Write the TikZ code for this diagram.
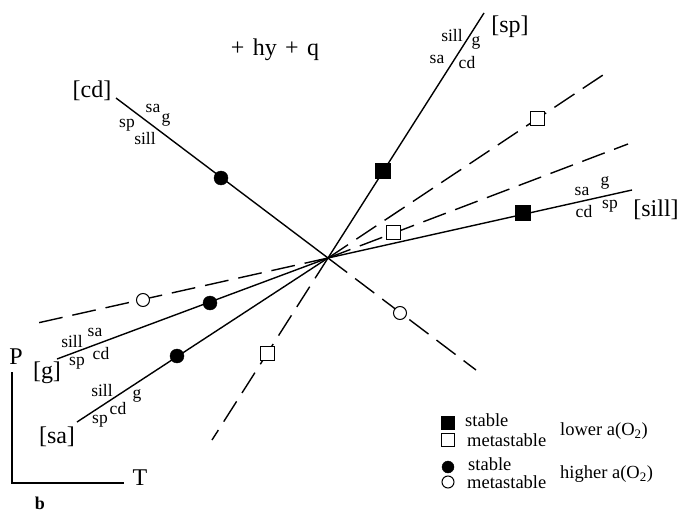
\documentclass[tikz,border=0pt]{standalone}
\usepackage{fontspec}
\setmainfont{Liberation Serif}
\usetikzlibrary{calc}
\tikzset{
    pdStable/.style={line width=1.4pt},
    pdMeta/.style={line width=1.4pt,dash pattern=on 24pt off 10pt},
    pdSqFull/.style={draw,fill=black,minimum size=15pt,inner sep=0pt,line width=1pt},
    pdSqOpen/.style={draw,fill=white,minimum size=14pt,inner sep=0pt,line width=1pt},
    pdDotFull/.style={circle,draw,fill=black,minimum size=14pt,inner sep=0pt},
    pdDotOpen/.style={circle,draw,fill=white,minimum size=13pt,inner sep=0pt,line width=1pt},
    pdPhase/.style={font=\fontsize{24}{26}\selectfont,inner sep=0pt},
    pdSmall/.style={font=\fontsize{17.5}{19}\selectfont,inner sep=0pt},
    pdKey/.style={font=\fontsize{18.5}{20}\selectfont,inner sep=0pt,anchor=west,
        text height=10pt,text depth=1pt}
}

\begin{document}
\begin{tikzpicture}[x=1pt,y=-1pt]
    \useasboundingbox (0,0) rectangle (681,514);

    % invariant point and ends of the univariant curves
    \coordinate (inv) at (328,258);
    \coordinate (cdEnd) at (116,98);
    \coordinate (spEnd) at (484,13);
    \coordinate (sillEnd) at (632,190);
    \coordinate (gEnd) at (57,359);
    \coordinate (saEnd) at (77,422);
    \coordinate (cdMeta) at (476,370);
    \coordinate (spMeta) at (212,440);
    \coordinate (sillMeta) at (33,324);
    \coordinate (gMeta) at (628,144);
    \coordinate (saMeta) at (603,75);

    \draw[pdStable] (cdEnd) -- (inv);
    \draw[pdStable] (spEnd) -- (inv);
    \draw[pdStable] (sillEnd) -- (inv);
    \draw[pdStable] (gEnd) -- (inv);
    \draw[pdStable] (saEnd) -- (inv);
    \draw[pdMeta] (inv) -- (cdMeta);
    \draw[pdMeta] (inv) -- (spMeta);
    \draw[pdMeta] (inv) -- (sillMeta);
    \draw[pdMeta] (inv) -- (gMeta);
    \draw[pdMeta] (inv) -- (saMeta);

    % symbols on the curves
    \node[pdDotFull] (cdDot) at (221,178) {};
    \node[pdDotOpen] (cdDotM) at (400,313) {};
    \node[pdSqFull] (spSq) at (383,171) {};
    \node[pdSqOpen] (spSqM) at (267,353) {};
    \node[pdSqFull] (sillSq) at (523,213) {};
    \node[pdDotOpen] (sillDotM) at (143,300) {};
    \node[pdDotFull] (gDot) at (210,303) {};
    \node[pdSqOpen] (gSqM) at (393,232) {};
    \node[pdDotFull] (saDot) at (177,356) {};
    \node[pdSqOpen] (saSqM) at (537,118) {};

    % labels
    \node[pdPhase] (title) at (275,50) {+\hspace{0.35em}hy\hspace{0.35em}+\hspace{0.35em}q};
    \node[pdPhase] (cdLab) at (92,91) {[cd]};
    \node[pdSmall] (cdSa) at (153,108) {sa};
    \node[pdSmall] (cdG) at (166,120) {g};
    \node[pdSmall] (cdSp) at (127,125) {sp};
    \node[pdSmall] (cdSill) at (145,139) {sill};

    \node[pdPhase] (spLab) at (510,27) {[sp]};
    \node[pdSmall] (spSill) at (452,36) {sill};
    \node[pdSmall] (spG) at (476,43) {g};
    \node[pdSmall] (spSa) at (437,59) {sa};
    \node[pdSmall] (spCd) at (467,63) {cd};

    \node[pdPhase] (sillLab) at (656,210) {[sill]};
    \node[pdSmall] (sillSa) at (582,191) {sa};
    \node[pdSmall] (sillG) at (605,183) {g};
    \node[pdSmall] (sillCd) at (584,212) {cd};
    \node[pdSmall] (sillSp) at (610,206) {sp};

    \node[pdPhase] (gLab) at (47,373) {[g]};
    \node[pdSmall] (gSill) at (72,342) {sill};
    \node[pdSmall] (gSa) at (95,332) {sa};
    \node[pdSmall] (gSp) at (77,363) {sp};
    \node[pdSmall] (gCd) at (101,354) {cd};

    \node[pdPhase] (saLab) at (57,437) {[sa]};
    \node[pdSmall] (saSill) at (102,391) {sill};
    \node[pdSmall] (saG) at (137,396) {g};
    \node[pdSmall] (saCd) at (118,409) {cd};
    \node[pdSmall] (saSp) at (100,421) {sp};

    % P-T axes
    \node[pdPhase] (pAxis) at (16,357) {P};
    \node[pdPhase] (tAxis) at (140,478) {T};
    \coordinate (axTop) at (12,372);
    \coordinate (axOrg) at (12,483);
    \coordinate (axRight) at (124,483);
    \draw[pdStable] (axTop) -- (axOrg) -- (axRight);
    \node[font=\bfseries\fontsize{18}{20}\selectfont,inner sep=0pt] (panel) at (40,503) {b};

    % key
    \node[pdSqFull,minimum size=13pt] (keySqS) at (448,423) {};
    \node[pdSqOpen,minimum size=13pt] (keySqM) at (448,440) {};
    \node[pdKey] (keyS1) at (465,422) {stable};
    \node[pdKey] (keyM1) at (467,442) {metastable};
    \node[pdKey] (keyLow) at (560,431) {lower a(O\textsubscript{2})};
    \node[pdDotFull,minimum size=12pt] (keyDotS) at (448,467) {};
    \node[pdDotOpen,minimum size=12pt] (keyDotM) at (448,482) {};
    \node[pdKey] (keyS2) at (468,466) {stable};
    \node[pdKey] (keyM2) at (467,484) {metastable};
    \node[pdKey] (keyHigh) at (560,474) {higher a(O\textsubscript{2})};
\end{tikzpicture}
\end{document}
